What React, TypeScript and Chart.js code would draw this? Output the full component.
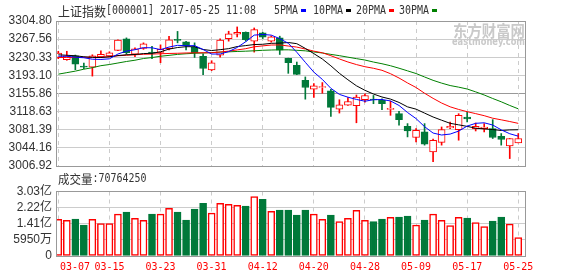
import React, { useEffect, useRef } from 'react';
import { Chart, registerables } from 'chart.js';

Chart.register(...registerables);

// ---------------- data ----------------
const DATES = [
  '03-07', '03-08', '03-09', '03-10', '03-13', '03-14', '03-15', '03-16', '03-17', '03-20',
  '03-21', '03-22', '03-23', '03-24', '03-27', '03-28', '03-29', '03-30', '03-31', '04-05',
  '04-06', '04-07', '04-10', '04-11', '04-12', '04-13', '04-14', '04-17', '04-18', '04-19',
  '04-20', '04-21', '04-24', '04-25', '04-26', '04-27', '04-28', '05-02', '05-03', '05-04',
  '05-05', '05-08', '05-09', '05-10', '05-11', '05-12', '05-15', '05-16', '05-17', '05-18',
  '05-19', '05-22', '05-23', '05-24', '05-25',
];

const OPEN = [
  3229.9, 3225.2, 3233.4, 3212.0, 3209.9, 3230.9, 3233.0, 3244.6, 3268.1, 3236.5,
  3248.7, 3240.9, 3240.5, 3247.7, 3267.0, 3261.9, 3250.7, 3232.0, 3204.2, 3234.8,
  3268.7, 3277.7, 3281.7, 3263.4, 3280.3, 3263.4, 3270.1, 3227.9, 3213.6, 3183.0,
  3164.6, 3168.1, 3161.4, 3123.8, 3132.0, 3131.0, 3143.0, 3144.6, 3141.6, 3123.2,
  3114.4, 3088.5, 3065.5, 3076.9, 3036.1, 3055.3, 3085.0, 3081.8, 3107.5, 3083.8,
  3083.8, 3083.8, 3068.1, 3048.3, 3054.4,
];
const HIGH = [
  3242.6, 3242.6, 3234.8, 3218.1, 3235.4, 3243.6, 3241.6, 3266.0, 3270.1, 3249.7,
  3259.9, 3252.8, 3255.8, 3273.2, 3283.4, 3263.0, 3259.9, 3237.5, 3223.2, 3268.1,
  3283.8, 3292.6, 3282.4, 3290.5, 3281.7, 3274.2, 3273.6, 3228.5, 3220.5, 3189.9,
  3176.3, 3178.3, 3164.6, 3143.0, 3147.7, 3152.8, 3155.2, 3151.8, 3145.0, 3140.1,
  3119.1, 3094.0, 3083.8, 3094.0, 3062.0, 3087.1, 3097.3, 3114.4, 3117.7, 3095.2,
  3094.0, 3102.2, 3073.6, 3063.4, 3073.6,
];
const LOW = [
  3227.3, 3224.2, 3204.8, 3206.9, 3191.6, 3229.3, 3231.3, 3243.6, 3236.5, 3231.3,
  3246.6, 3227.3, 3219.1, 3245.6, 3259.9, 3245.6, 3229.9, 3194.6, 3202.8, 3230.7,
  3263.4, 3272.1, 3263.4, 3240.9, 3268.7, 3261.3, 3236.0, 3197.3, 3194.6, 3144.2,
  3147.7, 3156.5, 3108.9, 3115.7, 3131.4, 3095.7, 3138.1, 3134.9, 3122.6, 3111.0,
  3090.6, 3066.7, 3056.5, 3049.8, 3015.7, 3049.8, 3083.8, 3059.9, 3097.3, 3078.9,
  3076.9, 3063.4, 3049.8, 3022.2, 3054.4,
];
const CLOSE = [
  3238.9, 3233.4, 3216.0, 3209.9, 3233.4, 3236.5, 3239.5, 3265.6, 3239.5, 3247.7,
  3257.9, 3238.5, 3246.6, 3266.0, 3265.0, 3253.8, 3239.5, 3207.3, 3219.1, 3265.4,
  3278.3, 3281.7, 3266.6, 3287.1, 3271.6, 3272.1, 3245.0, 3219.1, 3195.2, 3168.1,
  3171.6, 3170.1, 3127.3, 3132.8, 3139.5, 3148.7, 3151.8, 3142.6, 3134.9, 3125.2,
  3102.2, 3078.9, 3080.4, 3051.8, 3059.9, 3081.8, 3088.5, 3111.0, 3103.4, 3088.5,
  3087.1, 3065.5, 3061.4, 3063.4, 3063.4,
];

const MA5 = [
  3232.4, 3232.4, 3230.3, 3229.3, 3226.3, 3225.8, 3227.1, 3237.0, 3242.9, 3245.8,
  3250.0, 3249.8, 3246.0, 3251.3, 3254.8, 3254.0, 3254.2, 3246.3, 3236.9, 3237.0,
  3241.9, 3250.4, 3262.2, 3275.8, 3277.1, 3275.8, 3268.5, 3259.0, 3240.6, 3219.9,
  3199.8, 3184.8, 3166.5, 3154.0, 3148.3, 3143.7, 3140.0, 3143.1, 3143.5, 3140.6,
  3131.3, 3116.8, 3104.3, 3087.7, 3074.6, 3070.6, 3072.5, 3078.6, 3088.9, 3094.6,
  3095.7, 3091.1, 3081.2, 3073.2, 3068.2,
];
const MA10 = [
  3235.4, 3234.4, 3233.4, 3231.3, 3230.1, 3229.7, 3231.3, 3233.8, 3235.4, 3236.0,
  3237.9, 3238.4, 3241.5, 3247.1, 3250.3, 3252.0, 3252.0, 3246.2, 3244.1, 3245.9,
  3248.0, 3252.3, 3254.3, 3256.4, 3257.0, 3258.9, 3259.4, 3260.6, 3258.2, 3248.5,
  3237.8, 3226.7, 3212.7, 3197.3, 3184.1, 3171.7, 3162.4, 3154.8, 3148.7, 3144.4,
  3137.5, 3128.4, 3123.7, 3115.6, 3107.6, 3101.0, 3094.6, 3091.5, 3088.3, 3084.6,
  3083.1, 3081.8, 3079.9, 3081.1, 3081.4,
];
const MA20 = [
  3229.8, 3229.9, 3230.1, 3230.3, 3230.5, 3230.7, 3231.3, 3233.4, 3234.4, 3235.4,
  3236.4, 3236.9, 3237.5, 3238.1, 3238.5, 3239.1, 3239.5, 3239.5, 3239.6, 3241.0,
  3242.9, 3245.4, 3247.9, 3251.8, 3253.7, 3255.4, 3255.7, 3253.4, 3251.2, 3247.2,
  3242.9, 3239.5, 3233.5, 3226.8, 3220.6, 3215.3, 3210.9, 3207.7, 3203.5, 3196.5,
  3187.7, 3177.5, 3168.2, 3156.4, 3145.9, 3136.3, 3128.5, 3123.1, 3118.5, 3114.5,
  3110.3, 3105.1, 3101.8, 3098.3, 3094.5,
];
const MA30 = [
  3195.6, 3198.7, 3201.8, 3205.8, 3208.9, 3213.0, 3215.4, 3218.5, 3221.6, 3224.2,
  3227.7, 3229.7, 3232.4, 3234.2, 3236.2, 3237.5, 3238.5, 3239.1, 3239.9, 3240.9,
  3241.5, 3242.2, 3242.8, 3243.6, 3244.6, 3245.2, 3245.6, 3245.6, 3244.6, 3243.5,
  3241.2, 3239.1, 3236.2, 3233.6, 3230.5, 3227.5, 3224.6, 3220.5, 3217.0, 3212.9,
  3207.8, 3202.4, 3196.9, 3189.8, 3182.9, 3177.2, 3172.2, 3168.9, 3165.1, 3159.2,
  3152.8, 3145.6, 3138.8, 3131.3, 3124.4,
];

// volume, in 亿 (100 million)
const VOLUME = [
  1.63, 1.58, 1.64, 1.34, 1.63, 1.42, 1.42, 1.89, 1.99, 1.68,
  1.58, 1.89, 1.89, 2.18, 1.99, 1.59, 2.14, 2.44, 1.94, 2.43,
  2.38, 2.33, 2.29, 2.78, 2.64, 2.03, 2.09, 2.09, 1.84, 2.09,
  1.89, 1.63, 1.84, 1.52, 1.68, 2.08, 1.58, 1.52, 1.64, 1.73,
  1.74, 1.79, 1.34, 1.59, 1.89, 1.58, 1.32, 1.73, 1.69, 1.47,
  1.27, 1.54, 1.74, 1.39, 0.7076,
];

const PRICE_TICKS = [3006.92, 3044.16, 3081.39, 3118.63, 3155.86, 3193.10, 3230.33, 3267.56, 3304.80];
const PRICE_TICK_LABELS = ['3006.92', '3044.16', '3081.39', '3118.63', '3155.86', '3193.10', '3230.33', '3267.56', '3304.80'];
const VOL_TICKS = [-0.217, 0.595, 1.41, 2.22, 3.03];
const VOL_TICK_LABELS = ['0', '5950万', '1.41亿', '2.22亿', '3.03亿'];
const X_LABEL_STEP = 6;

const TITLE_CN = '上证指数';
const TITLE_INFO = '[000001] 2017-05-25 11:08';
const VOL_TITLE_CN = '成交量';
const VOL_TITLE_INFO = ':70764250';
const MA_NAMES = ['5PMA', '10PMA', '20PMA', '30PMA'];

// ---------------- style ----------------
const RED = '#ff0000';
const GREEN = '#00793a';
const MA_COLORS = ['#0000ff', '#000000', '#ff0000', '#008000'];
const GRID = '#cccccc';
const FRAME = '#999999';
const TEXT = '#333333';
const CJK = '"Noto Sans CJK SC", sans-serif';
const MONO = '"DejaVu Sans Mono", monospace';
const SANS = '"Liberation Sans", Arial, "Noto Sans CJK SC", sans-serif';

const X_MIN = -0.27;
const X_MAX = 54.79;

const crisp = (p: number) => Math.round(p - 0.5) + 0.5;

function drawCells(ctx: CanvasRenderingContext2D, text: string, x: number, y: number, font: string, cell: number, color: string) {
  ctx.save();
  ctx.font = font;
  ctx.fillStyle = color;
  ctx.textBaseline = 'middle';
  ctx.textAlign = 'center';
  let cx = x;
  for (const ch of Array.from(text)) {
    const w = ctx.measureText(ch).width;
    const s = w > cell ? cell / w : 1;
    ctx.save();
    ctx.translate(cx + cell / 2, y);
    ctx.scale(s, 1);
    ctx.fillText(ch, 0, 0);
    ctx.restore();
    cx += cell;
  }
  ctx.restore();
  return cx;
}

function drawFrame(chart: any) {
  const { ctx, chartArea: a } = chart;
  ctx.save();
  ctx.strokeStyle = FRAME;
  ctx.lineWidth = 1;
  ctx.strokeRect(crisp(a.left), crisp(a.top), crisp(a.right) - crisp(a.left), crisp(a.bottom) - crisp(a.top));
  ctx.restore();
}

function drawDashed(chart: any) {
  const { ctx, chartArea: a, scales } = chart;
  ctx.save();
  ctx.strokeStyle = GRID;
  ctx.lineWidth = 1;
  ctx.setLineDash([4, 4]);
  for (let i = 0; i < DATES.length; i += X_LABEL_STEP) {
    const x = crisp(scales.x.getPixelForValue(i));
    ctx.beginPath();
    ctx.moveTo(x, a.top);
    ctx.lineTo(x, a.bottom);
    ctx.stroke();
  }
  ctx.restore();
}

const idx = DATES.map((_, i) => i);
const isUp = idx.map((i) => CLOSE[i] >= OPEN[i]);

export default function App() {
  const priceRef = useRef<HTMLCanvasElement | null>(null);
  const volRef = useRef<HTMLCanvasElement | null>(null);

  useEffect(() => {
    const pricePlugin = {
      id: 'priceDecor',
      beforeDatasetsDraw(chart: any) {
        const { ctx } = chart;
        // watermark
        ctx.save();
        ctx.fillStyle = '#c9c9c9';
        ctx.textBaseline = 'middle';
        ctx.textAlign = 'left';
        ctx.font = `bold 16px ${CJK}`;
        const t1 = '东方财富网';
        const w1 = ctx.measureText(t1).width;
        ctx.save();
        ctx.translate(453, 30.5);
        ctx.scale(72 / w1, 1);
        ctx.fillText(t1, 0, 0);
        ctx.restore();
        ctx.font = `bold 10px "DejaVu Sans", sans-serif`;
        const t2 = 'eastmoney.com';
        const w2 = ctx.measureText(t2).width;
        ctx.save();
        ctx.translate(452, 42.5);
        ctx.scale(73 / w2, 1);
        ctx.fillText(t2, 0, 0);
        ctx.restore();
        ctx.restore();
        drawDashed(chart);
      },
      afterDatasetsDraw(chart: any) {
        drawFrame(chart);
      },
      afterDraw(chart: any) {
        const { ctx } = chart;
        let x = drawCells(ctx, TITLE_CN, 58, 11, `13px ${CJK}`, 12, TEXT);
        drawCells(ctx, TITLE_INFO, x, 11, `13px ${MONO}`, 6, TEXT);
        const legendX = [274, 313, 356, 399];
        MA_NAMES.forEach((n, k) => {
          const end = drawCells(ctx, n, legendX[k], 11, `13px ${MONO}`, 6, TEXT);
          ctx.fillStyle = MA_COLORS[k];
          ctx.fillRect(end + 3, 9, 5, 3);
        });
        x = drawCells(ctx, VOL_TITLE_CN, 58, 179, `12px ${CJK}`, 11.5, TEXT);
        drawCells(ctx, VOL_TITLE_INFO, x, 179, `12px ${MONO}`, 6, TEXT);
      },
    };

    const volPlugin = {
      id: 'volDecor',
      beforeDatasetsDraw(chart: any) {
        drawDashed(chart);
      },
      afterDatasetsDraw(chart: any) {
        drawFrame(chart);
      },
      afterDraw(chart: any) {
        const { ctx, chartArea: a, scales } = chart;
        for (let i = 0; i < DATES.length; i += X_LABEL_STEP) {
          const cx = scales.x.getPixelForValue(i);
          const w = DATES[i].length * 6;
          let left = cx - w / 2;
          if (left < a.left + 4) left = a.left + 4;
          drawCells(ctx, DATES[i], left, 91.5, `11px ${MONO}`, 6, RED);
        }
      },
    };

    const price = new Chart(priceRef.current as HTMLCanvasElement, {
      type: 'bar',
      data: {
        datasets: [
          ...MA_NAMES.map((n, k) => ({
            type: 'line' as const,
            label: n,
            data: [MA5, MA10, MA20, MA30][k].map((v, i) => ({ x: i, y: v })),
            borderColor: MA_COLORS[k],
            borderWidth: 1,
            pointRadius: 0,
            tension: 0,
            order: 1,
          })),
          {
            type: 'bar' as const,
            label: 'body',
            data: idx.map((i) => ({ x: i, y: [OPEN[i], CLOSE[i]] })),
            backgroundColor: idx.map((i) => (isUp[i] ? '#ffffff' : GREEN)),
            borderColor: idx.map((i) => (isUp[i] ? RED : GREEN)),
            borderWidth: 1,
            borderSkipped: false,
            barThickness: 7,
            grouped: false,
            order: 2,
          },
          {
            type: 'bar' as const,
            label: 'wick',
            data: idx.map((i) => ({ x: i, y: [LOW[i], HIGH[i]] })),
            backgroundColor: idx.map((i) => (isUp[i] ? RED : GREEN)),
            borderWidth: 0,
            barThickness: 1,
            grouped: false,
            order: 3,
          },
        ],
      } as any,
      options: {
        responsive: false,
        animation: false,
        devicePixelRatio: 1,
        events: [],
        layout: { padding: { left: 0, right: 53, top: 21, bottom: 24 } },
        plugins: { legend: { display: false }, tooltip: { enabled: false }, title: { display: false } },
        scales: {
          x: { type: 'linear', min: X_MIN, max: X_MAX, display: false, offset: false, grid: { offset: false } },
          y: {
            type: 'linear',
            min: PRICE_TICKS[0],
            max: PRICE_TICKS[PRICE_TICKS.length - 1],
            afterBuildTicks: (s: any) => {
              s.ticks = PRICE_TICKS.map((v) => ({ value: v }));
            },
            afterFit: (s: any) => {
              s.width = 56;
            },
            ticks: {
              autoSkip: false,
              padding: 4,
              color: TEXT,
              font: { family: SANS, size: 12 },
              callback: (_v: any, i: number) => PRICE_TICK_LABELS[i],
            },
            grid: {
              drawTicks: false,
              color: (c: any) => (c.index === 4 ? FRAME : GRID),
              lineWidth: 1,
            },
            border: { display: false },
          },
        },
      } as any,
      plugins: [pricePlugin],
    });

    const vol = new Chart(volRef.current as HTMLCanvasElement, {
      type: 'bar',
      data: {
        datasets: [
          {
            label: 'volume',
            data: VOLUME.map((v, i) => ({ x: i, y: v })),
            base: VOL_TICKS[0],
            backgroundColor: idx.map((i) => (isUp[i] ? '#ffffff' : GREEN)),
            borderColor: idx.map((i) => (isUp[i] ? RED : GREEN)),
            borderWidth: 1.5,
            borderSkipped: false,
            barThickness: 7,
            grouped: false,
          },
        ],
      } as any,
      options: {
        responsive: false,
        animation: false,
        devicePixelRatio: 1,
        events: [],
        layout: { padding: { left: 0, right: 53, top: 15.5, bottom: 20 } },
        plugins: { legend: { display: false }, tooltip: { enabled: false } },
        scales: {
          x: { type: 'linear', min: X_MIN, max: X_MAX, display: false, offset: false, grid: { offset: false } },
          y: {
            type: 'linear',
            min: VOL_TICKS[0],
            max: VOL_TICKS[VOL_TICKS.length - 1],
            afterBuildTicks: (s: any) => {
              s.ticks = VOL_TICKS.map((v) => ({ value: v }));
            },
            afterFit: (s: any) => {
              s.width = 56;
            },
            ticks: {
              autoSkip: false,
              padding: 4,
              color: TEXT,
              font: { family: SANS, size: 12 },
              callback: (_v: any, i: number) => VOL_TICK_LABELS[i],
            },
            grid: { drawTicks: false, color: GRID, lineWidth: 1 },
            border: { display: false },
          },
        },
      } as any,
      plugins: [volPlugin],
    });

    return () => {
      price.destroy();
      vol.destroy();
    };
  }, []);

  return (
    <div style={{ position: 'fixed', left: 0, top: 0, width: 578, height: 276, background: '#ffffff', overflow: 'hidden' }}>
      <canvas ref={priceRef} width={578} height={190} style={{ position: 'absolute', left: 0, top: 0, width: 578, height: 190 }} />
      <canvas ref={volRef} width={578} height={100} style={{ position: 'absolute', left: 0, top: 176, width: 578, height: 100 }} />
    </div>
  );
}
